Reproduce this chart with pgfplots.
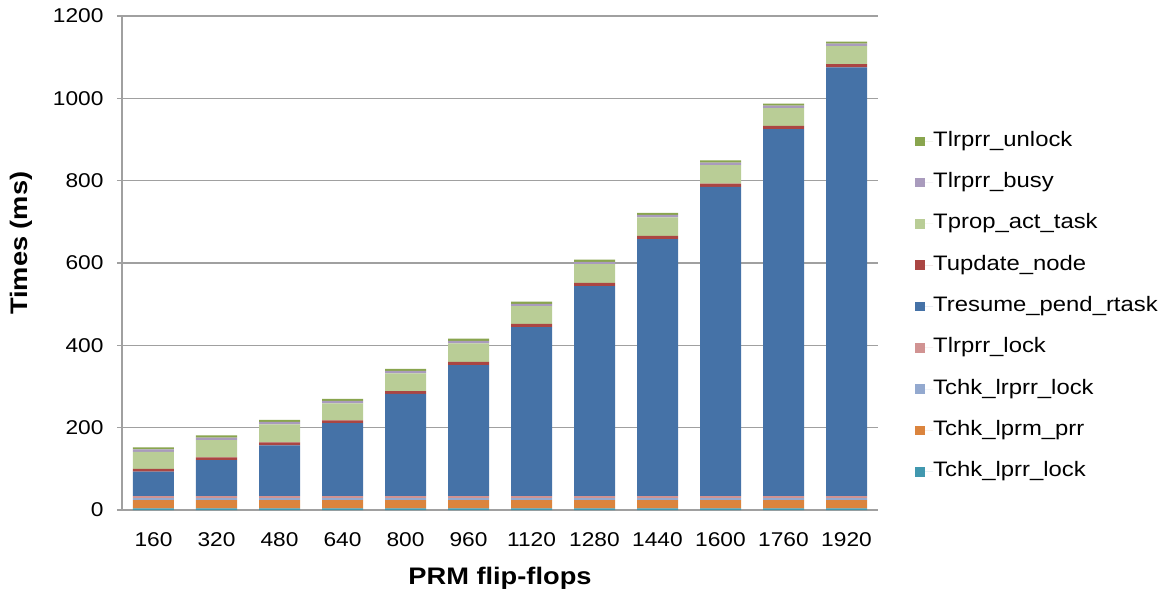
\documentclass[border=0pt]{standalone}
\usepackage{pgfplots}
\pgfplotsset{compat=1.18}
\usepackage{pgfplotstable}
\usepackage{fontspec}
\setmainfont{Liberation Sans}[FakeStretch=1.14]

\definecolor{cTeal}{HTML}{4198AF}
\definecolor{cOrange}{HTML}{DB843D}
\definecolor{cLightBlue}{HTML}{93A9CF}
\definecolor{cPink}{HTML}{D19392}
\definecolor{cBlue}{HTML}{4572A7}
\definecolor{cRed}{HTML}{AA4643}
\definecolor{cLightGreen}{HTML}{B9CD96}
\definecolor{cPurple}{HTML}{A99BBD}
\definecolor{cDarkGreen}{HTML}{89A54E}
\definecolor{cGrid}{HTML}{A0A0A0}

% Time components (ms) per PRM size; idx = category position
\pgfplotstableread{
idx ff   lprrlock lprmprr lrprrchk lrprrlock resume update prop busy unlock
0   160  4 20 5 5  59  7 41 6 5
1   320  4 20 5 5  87  7 42 6 5
2   480  4 20 5 5  123 7 44 6 5
3   640  4 20 5 5  177 7 41 6 5
4   800  4 20 5 5  248 7 43 6 5
5   960  4 20 5 5  318 8 45 6 5
6   1120 4 20 5 5  410 8 43 6 5
7   1280 4 20 5 5  510 8 45 6 5
8   1440 4 20 5 5  624 8 45 6 5
9   1600 4 20 5 5  751 8 45 6 5
10  1760 4 20 5 5  891 8 43 6 5
11  1920 4 20 5 5  1041 8 44 6 5
}\timings

\begin{document}
\begin{tikzpicture}
\path[use as bounding box] (-122bp,-84bp) rectangle (1042bp,510bp);
\begin{axis}[
  scale only axis,
  width=756bp, height=494bp,
  ybar stacked,
  bar width=41bp,
  xmin=-0.5, xmax=11.5,
  ymin=0, ymax=1200,
  ytick={0,200,...,1200},
  xtick={0,...,11},
  xticklabels={160,320,480,640,800,960,1120,1280,1440,1600,1760,1920},
  axis lines*=left,
  axis line style={cGrid, line width=1.3bp},
  ymajorgrids,
  major grid style={cGrid, line width=1.3bp},
  tick align=outside,
  major tick length=5bp,
  xtick style={draw=none},
  ytick style={cGrid, line width=1.3bp},
  /pgf/number format/assume math mode=true,
  /pgf/number format/1000 sep={},
  ticklabel style={font=\fontsize{20}{24}\selectfont},
  yticklabel style={xshift=-10bp},
  xticklabel style={yshift=-14bp},
  xlabel={PRM flip-flops},
  ylabel={Times (ms)},
  xlabel style={font=\fontsize{24}{28}\selectfont\bfseries, at={(axis description cs:0.5,0)}, anchor=north, inner sep=0pt, yshift=-57bp},
  ylabel style={font=\fontsize{24}{28}\selectfont\bfseries, at={(axis description cs:-0.1177,0.54)}, anchor=south, inner sep=0pt},
  reverse legend,
  legend cell align=left,
  legend style={
    draw=none, fill=none,
    at={(rel axis cs:1.049,0.767)}, anchor=north west,
    inner sep=0pt,
    font=\fontsize{21}{25}\selectfont,
    row sep=21.3bp,
    nodes={inner sep=0pt, text height=15bp, text depth=5bp},
  },
  legend image code/.code={
    \fill[#1, draw=none] (0bp,-4.8bp) rectangle (9.6bp,4.8bp);
    \path (0bp,0bp) -- (18bp,0bp);
  },
]
\addplot[fill=cTeal, draw=none] table[x=idx, y=lprrlock] {\timings};
\addlegendentry{Tchk\_lprr\_lock}
\addplot[fill=cOrange, draw=none] table[x=idx, y=lprmprr] {\timings};
\addlegendentry{Tchk\_lprm\_prr}
\addplot[fill=cLightBlue, draw=none] table[x=idx, y=lrprrchk] {\timings};
\addlegendentry{Tchk\_lrprr\_lock}
\addplot[fill=cPink, draw=none] table[x=idx, y=lrprrlock] {\timings};
\addlegendentry{Tlrprr\_lock}
\addplot[fill=cBlue, draw=none] table[x=idx, y=resume] {\timings};
\addlegendentry{Tresume\_pend\_rtask}
\addplot[fill=cRed, draw=none] table[x=idx, y=update] {\timings};
\addlegendentry{Tupdate\_node}
\addplot[fill=cLightGreen, draw=none] table[x=idx, y=prop] {\timings};
\addlegendentry{Tprop\_act\_task}
\addplot[fill=cPurple, draw=none] table[x=idx, y=busy] {\timings};
\addlegendentry{Tlrprr\_busy}
\addplot[fill=cDarkGreen, draw=none] table[x=idx, y=unlock] {\timings};
\addlegendentry{Tlrprr\_unlock}
\end{axis}
\end{tikzpicture}
\end{document}
